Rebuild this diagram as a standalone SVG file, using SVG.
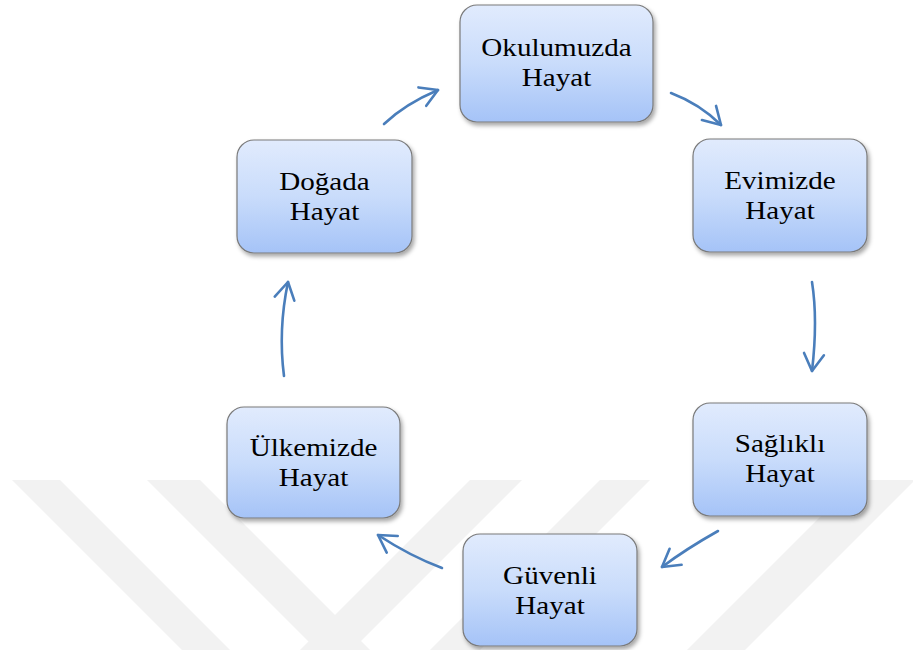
<svg xmlns="http://www.w3.org/2000/svg" width="913" height="650" viewBox="0 0 913 650">
<style>
.box{fill:url(#g);stroke:#7a7a7a;stroke-width:1.2;filter:url(#sh)}
.t{font-family:"Liberation Serif","Times New Roman",serif;font-size:26px;fill:#000;text-anchor:middle}
.c{fill:none;stroke:#4a7ebb;stroke-width:2.6;stroke-linecap:round;marker-end:url(#ah)}
.wm{fill:#f2f2f2}
</style>
<defs>
<linearGradient id="g" x1="0" y1="0" x2="0" y2="1">
<stop offset="0" stop-color="#e1ebfd"/>
<stop offset="0.5" stop-color="#c9dcfb"/>
<stop offset="1" stop-color="#a5c3f7"/>
</linearGradient>
<filter id="sh" x="-10%" y="-10%" width="125%" height="130%">
<feDropShadow dx="2" dy="3" stdDeviation="2" flood-color="#000" flood-opacity="0.35"/>
</filter>
<marker id="ah" markerUnits="userSpaceOnUse" markerWidth="30" markerHeight="30" viewBox="-20 -15 24 30" refX="0" refY="0" orient="auto">
<path d="M-17,-10 L0,0 L-17,10" fill="none" stroke="#4a7ebb" stroke-width="2.6" stroke-linecap="round" stroke-linejoin="round"/>
</marker>
</defs>
<rect width="913" height="650" fill="#fff"/>
<g id="watermark">
<polygon class="wm" points="12,480 60,480 230,650 182,650"/>
<polygon class="wm" points="147,480 200,480 370,650 317,650"/>
<polygon class="wm" points="470,480 522,480 352,650 300,650"/>
<polygon class="wm" points="600,480 650,480 480,650 430,650"/>
<polygon class="wm" points="857,480 913,480 913,482 745,650 687,650"/>
</g>
<g id="connectors">
<path class="c" d="M384,124 Q405,104 438,90"/>
<path class="c" d="M671,93 Q700,104 721,125"/>
<path class="c" d="M812,282 Q818,320 812,371"/>
<path class="c" d="M718,531 Q686,549 662,567"/>
<path class="c" d="M442,568 Q410,556 378,535"/>
<path class="c" d="M284,376 Q278,330 288,282"/>
</g>
<g id="n-okulumuzda">
<rect class="box" x="460" y="5" width="193" height="117" rx="17"/>
<text class="t" transform="translate(556.5 0) scale(1.12 1)" y="56">Okulumuzda</text>
<text class="t" transform="translate(556.5 0) scale(1.12 1)" y="86">Hayat</text>
</g>
<g id="n-evimizde">
<rect class="box" x="693" y="139" width="174" height="113" rx="17"/>
<text class="t" transform="translate(780 0) scale(1.12 1)" y="189">Evimizde</text>
<text class="t" transform="translate(780 0) scale(1.12 1)" y="219">Hayat</text>
</g>
<g id="n-saglikli">
<rect class="box" x="693" y="403" width="174" height="113" rx="17"/>
<text class="t" transform="translate(780 0) scale(1.12 1)" y="452">Sağlıklı</text>
<text class="t" transform="translate(780 0) scale(1.12 1)" y="482">Hayat</text>
</g>
<g id="n-guvenli">
<rect class="box" x="463" y="534" width="174" height="112" rx="17"/>
<text class="t" transform="translate(550 0) scale(1.12 1)" y="584">Güvenli</text>
<text class="t" transform="translate(550 0) scale(1.12 1)" y="614">Hayat</text>
</g>
<g id="n-ulkemizde">
<rect class="box" x="227" y="407" width="173" height="111" rx="17"/>
<text class="t" transform="translate(313.5 0) scale(1.12 1)" y="456">Ülkemizde</text>
<text class="t" transform="translate(313.5 0) scale(1.12 1)" y="486">Hayat</text>
</g>
<g id="n-dogada">
<rect class="box" x="237" y="140" width="175" height="113" rx="17"/>
<text class="t" transform="translate(324.5 0) scale(1.12 1)" y="190">Doğada</text>
<text class="t" transform="translate(324.5 0) scale(1.12 1)" y="220">Hayat</text>
</g>
</svg>
